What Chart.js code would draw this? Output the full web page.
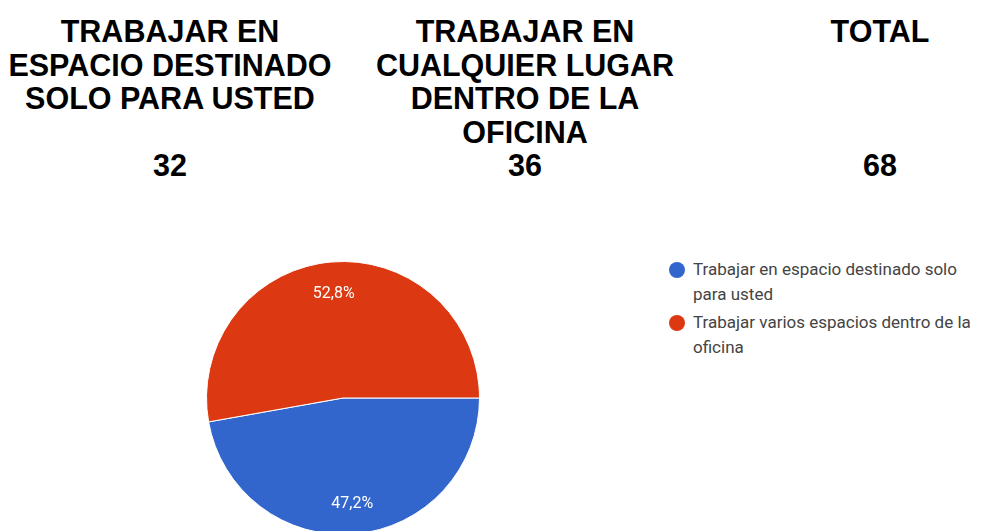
<!DOCTYPE html>
<html>
<head>
<meta charset="utf-8">
<script src="https://cdn.jsdelivr.net/npm/chart.js@4"></script>
<style>
  html, body { margin: 0; padding: 0; background: #fff; }
  body { width: 998px; height: 531px; position: relative; overflow: hidden; }
  .head-col {
    position: absolute; top: 15px; width: 360px; margin-left: -180px;
    text-align: center; font-family: "Liberation Sans", Arial, sans-serif;
    font-weight: bold; font-size: 30.5px; line-height: 33.5px; color: #000;
  }
  .head-num {
    position: absolute; top: 149px; width: 120px; margin-left: -60px;
    text-align: center; font-family: "Liberation Sans", Arial, sans-serif;
    font-weight: bold; font-size: 30.5px; line-height: 33.5px; color: #000;
  }
  #pieWrap { position: absolute; left: 206px; top: 261px; width: 274px; height: 274px; }
  #legend {
    position: absolute; left: 667px; top: 257px;
    font-family: Roboto, "Noto Sans", sans-serif; font-size: 17px; color: #444;
  }
  .leg-item { position: relative; padding-left: 26px; line-height: 25px; margin-bottom: 3px; }
  .leg-dot { position: absolute; left: 2px; top: 4.5px; width: 16px; height: 16px; border-radius: 50%; }
</style>
</head>
<body>
<div id="header"></div>
<div id="pieWrap"><canvas id="pie"></canvas></div>
<div id="legend"></div>
<script>
// header table
const headTitles = [
  ['TRABAJAR EN', 'ESPACIO DESTINADO', 'SOLO PARA USTED'],
  ['TRABAJAR EN', 'CUALQUIER LUGAR', 'DENTRO DE LA', 'OFICINA'],
  ['TOTAL']
];
const headCounts = [32, 36, 68];
const headCenters = [170, 525, 880];

// pie
const pieLabels = [
  ['Trabajar en espacio destinado solo', 'para usted'],
  ['Trabajar varios espacios dentro de la', 'oficina']
];
const pieValues = [47.2, 52.8];
const pieColors = ['#3366cc', '#dc3912'];

const header = document.getElementById('header');
headTitles.forEach((lines, i) => {
  const t = document.createElement('div');
  t.className = 'head-col';
  t.style.left = headCenters[i] + 'px';
  t.innerHTML = lines.join('<br>');
  header.appendChild(t);
  const n = document.createElement('div');
  n.className = 'head-num';
  n.style.left = headCenters[i] + 'px';
  n.textContent = headCounts[i];
  header.appendChild(n);
});

const legend = document.getElementById('legend');
pieLabels.forEach((lines, i) => {
  const item = document.createElement('div');
  item.className = 'leg-item';
  item.innerHTML = `<span class="leg-dot" style="background:${pieColors[i]}"></span>${lines.join('<br>')}`;
  legend.appendChild(item);
});

// percentage labels inside slices
const sliceLabels = {
  id: 'sliceLabels',
  afterDatasetsDraw(chart) {
    const ctx = chart.ctx;
    const meta = chart.getDatasetMeta(0);
    ctx.save();
    ctx.fillStyle = '#ffffff';
    ctx.font = '16px Roboto, Arial, sans-serif';
    ctx.textAlign = 'center';
    ctx.textBaseline = 'middle';
    meta.data.forEach((arc, i) => {
      const p = arc.getProps(['x', 'y', 'startAngle', 'endAngle', 'outerRadius'], true);
      const mid = (p.startAngle + p.endAngle) / 2;
      const r = p.outerRadius * 0.77;
      const txt = pieValues[i].toFixed(1).replace('.', ',') + '%';
      ctx.fillText(txt, p.x + Math.cos(mid) * r, p.y + Math.sin(mid) * r + 1);
    });
    ctx.restore();
  }
};

new Chart(document.getElementById('pie'), {
  type: 'pie',
  data: {
    labels: pieLabels.map(l => l.join(' ')),
    datasets: [{
      data: pieValues,
      backgroundColor: pieColors,
      borderColor: '#ffffff',
      borderWidth: 1,
      hoverOffset: 0,
      offset: 0
    }]
  },
  options: {
    responsive: true,
    maintainAspectRatio: false,
    animation: false,
    rotation: 90,
    layout: { padding: 0 },
    plugins: { legend: { display: false }, tooltip: { enabled: false } }
  },
  plugins: [sliceLabels]
});
</script>
</body>
</html>
